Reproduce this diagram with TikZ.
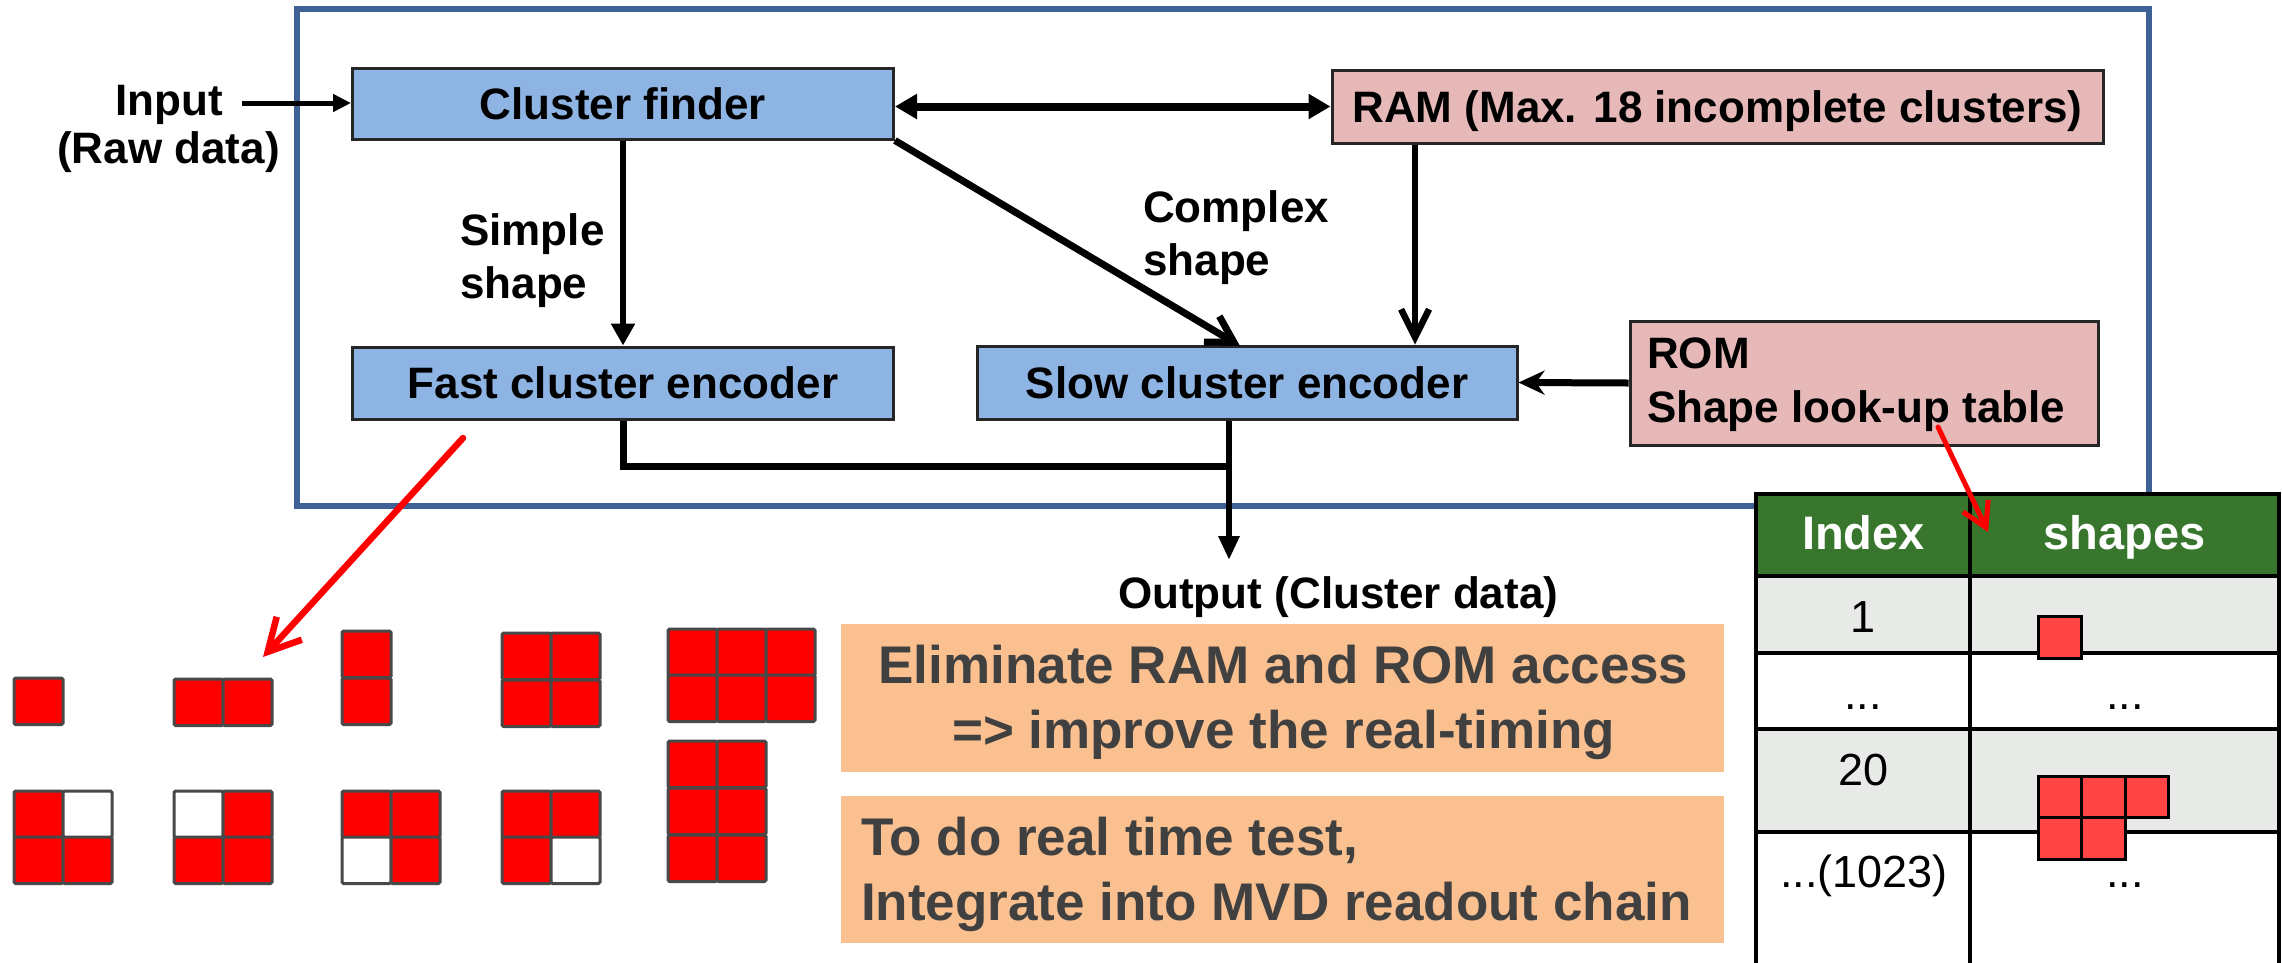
\documentclass[tikz,border=0pt]{standalone}
\usepackage{fontspec}
\setmainfont{Liberation Sans}
\usetikzlibrary{arrows.meta}
\definecolor{frameblue}{HTML}{3F6296}
\definecolor{boxblue}{HTML}{8EB4E3}
\definecolor{boxpink}{HTML}{E6B9B8}
\definecolor{orng}{HTML}{FAC090}
\definecolor{txtgray}{HTML}{404040}
\definecolor{hdrgreen}{HTML}{38752D}
\definecolor{rowgray}{HTML}{E8EAE7}
\definecolor{shapered}{HTML}{FF4545}
\definecolor{pieceline}{HTML}{484848}
\newcommand\dfont{\fontsize{44}{53}\selectfont\bfseries}
\newcommand\ofont{\fontsize{53}{64}\selectfont\bfseries}
\newcommand\hfont{\fontsize{47}{56}\selectfont\bfseries}
\newcommand\rfont{\fontsize{45}{54}\selectfont}
\newcommand\pc[3]{\draw[piecesty,fill=#3] (#1,#2) rectangle ++(49,46.5);}
\newcommand\tc[2]{\draw[tcellsty] (#1,#2) rectangle ++(43.5,41.5);}
\begin{document}
\begin{tikzpicture}[x=1pt,y=-1pt,
  blk/.style={draw=black!85, line width=3, inner sep=0, font=\dfont, text height=31.5pt, text depth=0pt},
  lbl/.style={inner sep=0, font=\dfont, anchor=base west},
  otxt/.style={inner sep=0, font=\ofont, text=txtgray, anchor=base west},
  obox/.style={fill=orng, inner sep=0, minimum width=883, minimum height=148},
  hdr/.style={inner sep=0, font=\hfont, text=white, anchor=base},
  cellt/.style={inner sep=0, font=\rfont, anchor=base},
  piecesty/.style={draw=pieceline, line width=3, rounded corners=1.5},
  tcellsty/.style={draw=black, line width=3, fill=shapered},
  tline/.style={line width=4, draw=black},
  conn/.style={draw=black, line width=6.5},
  redarr/.style={draw=red, line width=6.5, line cap=round}
]
\fill[white] (0,0) rectangle (2282,962);
\useasboundingbox (0,0) rectangle (2282,962);

% outer frame
\draw[frameblue, line width=6] (297,9) rectangle (2149,506);

% blocks
\node[blk, fill=boxblue, minimum width=541, minimum height=71] (cf) at (623,103.5) {Cluster finder};
\node[blk, fill=boxpink, minimum width=771, minimum height=73] (ram) at (1717.5,106.5) {RAM (Max. 18 incomplete clusters)};
\node[blk, fill=boxblue, minimum width=541, minimum height=72] (fast) at (623,383) {Fast cluster encoder};
\node[blk, fill=boxblue, minimum width=540, minimum height=73] (slow) at (1247,382.5) {Slow cluster encoder};
\node[blk, fill=boxpink, minimum width=468, minimum height=124] (rom) at (1864,383) {};
\node[lbl] (rom1) at (1647,368) {ROM};
\node[lbl] (rom2) at (1647,422) {Shape look-up table};

% labels
\node[lbl, anchor=base] (in1) at (169.5,115) {Input};
\node[lbl, anchor=base] (in2) at (168.5,163) {(Raw data)};
\node[lbl] (s1) at (460,245) {Simple};
\node[lbl] (s2) at (460,298) {shape};
\node[lbl] (c1) at (1143,222) {Complex};
\node[lbl] (c2) at (1143,275) {shape};
\node[lbl] (outl) at (1118,608) {Output (Cluster data)};

% coordinates
\coordinate (inA) at (242,103);
\coordinate (dtip) at (1240,346);
\coordinate (rx) at (1415,0);
\coordinate (ox) at (1229,0);
\coordinate (oy) at (0,466);
\coordinate (otip) at (1229,560);

% connectors
\draw[conn, line width=5, -{Triangle[length=18,width=17]}] (inA) -- (cf.west |- inA);
\draw[conn, -{Triangle[length=22,width=23]}] (cf.south) -- (fast.north);
\draw[conn, line width=8, {Triangle[length=22,width=24]}-{Triangle[length=22,width=24]}] (cf.east |- ram.west) -- (ram.west);
\draw[conn, line width=7, -{Straight Barb[length=26,width=30]}] (cf.south east) -- (dtip);
\draw[conn, line width=6.5, -{Straight Barb[length=28,width=28]}] (ram.south -| rx) -- (slow.north -| rx);
\draw[conn, line width=7, -{Stealth[length=26,width=24]}] (rom.west) -- (slow.east);
\draw[conn, line width=7] (fast.south) -- (fast.south |- oy) -- (ox |- oy);
\draw[conn, -{Triangle[length=24,width=20]}] (slow.south -| ox) -- (otip);

% orange boxes
\node[obox] (ob1) at (1282.5,698) {};
\node[otxt, anchor=base] (ot1) at (1283.5,683) {Eliminate RAM and ROM access};
\node[otxt, anchor=base] (ot2) at (1283.5,748) {=> improve the real-timing};
\node[obox, minimum height=147] (ob2) at (1282.5,869.5) {};
\node[otxt] (ot3) at (861,855) {To do real time test,};
\node[otxt] (ot4) at (861,920) {Integrate into MVD readout chain};

% cluster pieces
\pc{14}{678}{red}
\pc{174}{679}{red}\pc{223}{679}{red}
\pc{342}{631}{red}\pc{342}{678}{red}
\pc{502}{633}{red}\pc{551}{633}{red}\pc{502}{680}{red}\pc{551}{680}{red}
\pc{668}{629}{red}\pc{717}{629}{red}\pc{766}{629}{red}
\pc{668}{675}{red}\pc{717}{675}{red}\pc{766}{675}{red}
\pc{14}{791}{red}\pc{63}{791}{white}\pc{14}{837}{red}\pc{63}{837}{red}
\pc{174}{791}{white}\pc{223}{791}{red}\pc{174}{837}{red}\pc{223}{837}{red}
\pc{342}{791}{red}\pc{391}{791}{red}\pc{342}{837}{white}\pc{391}{837}{red}
\pc{502}{791}{red}\pc{551}{791}{red}\pc{502}{837}{red}\pc{551}{837}{white}
\pc{668}{741}{red}\pc{717}{741}{red}
\pc{668}{788}{red}\pc{717}{788}{red}
\pc{668}{835}{red}\pc{717}{835}{red}

% table
\fill[hdrgreen] (1756,494) rectangle (2279,576);
\fill[rowgray] (1756,576) rectangle (2279,653);
\fill[white] (1756,653) rectangle (2279,729);
\fill[rowgray] (1756,729) rectangle (2279,832);
\fill[white] (1756,832) rectangle (2279,975);
\draw[tline] (1756,975) -- (1756,494) -- (2279,494) -- (2279,975);
\foreach \yy in {576,653,729,832} \draw[tline] (1756,\yy) -- (2279,\yy);
\draw[tline] (1970,494) -- (1970,975);
\node[hdr] (hidx) at (1863.5,549) {Index};
\node[hdr] (hshp) at (2124.5,549) {shapes};
\node[cellt] (r1) at (1863,632) {1};
\node[cellt] (r2) at (1863,709) {...};
\node[cellt] (r3) at (1863,785) {20};
\node[cellt] (r4) at (1864,887) {...(1023)};
\node[cellt] (q2) at (2125,709) {...};
\node[cellt] (q4) at (2125,887) {...};
\tc{2038}{616.5}
\tc{2038}{776}\tc{2081.5}{776}\tc{2125}{776}
\tc{2038}{817.5}\tc{2081.5}{817.5}

% red arrows
\coordinate (r1s) at (463,438);
\coordinate (r1e) at (263,657);
\coordinate (r2s) at (1938,427);
\coordinate (r2e) at (1988,532);
\draw[redarr, -{Straight Barb[length=32,width=34]}] (r1s) -- (r1e);
\draw[redarr, line width=5, -{Straight Barb[length=24,width=28]}] (r2s) -- (r2e);
\end{tikzpicture}
\end{document}
